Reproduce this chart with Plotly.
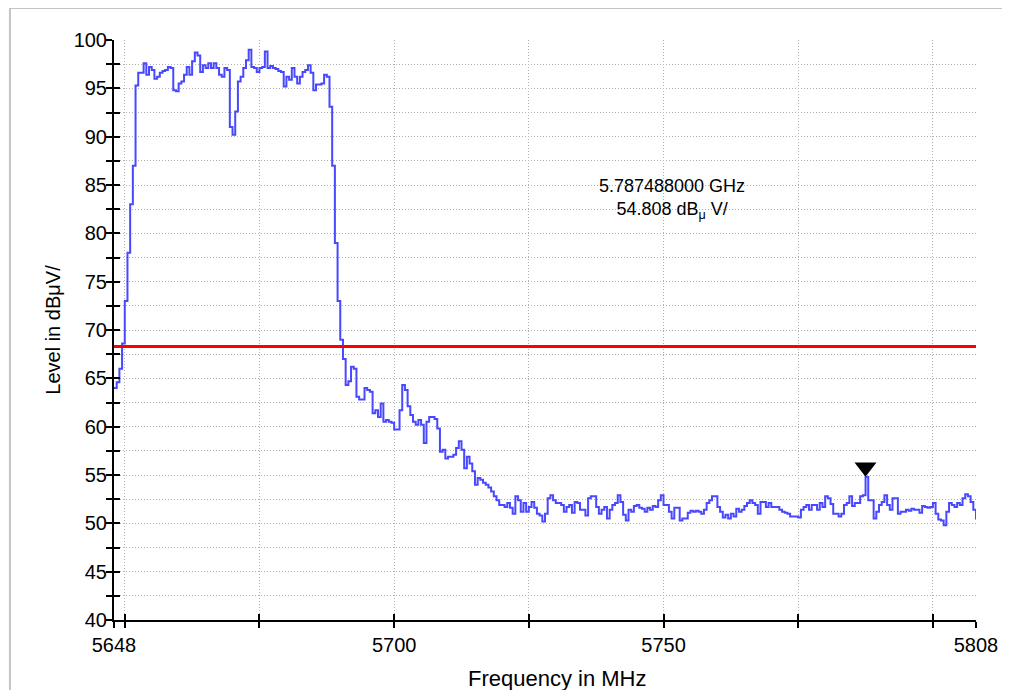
import numpy as np
import plotly.graph_objects as go

# ---------------- data ----------------
F_START = 5648.0          # MHz, sweep start
F_STOP = 5808.0           # MHz, sweep stop
# measured level (dBuV) at every 0.5 MHz from 5648 to 5808 MHz
LEVEL = [
    64.0, 64.6, 66.0, 68.6, 73.0, 78.0, 83.0, 87.0, 95.3, 96.6,   # 5648
    96.6, 97.6, 96.4, 97.2, 96.9, 96.0, 96.2, 96.6, 96.8, 96.9,   # 5653
    97.2, 97.1, 94.8, 94.7, 95.5, 95.7, 96.4, 97.2, 96.4, 97.8,   # 5658
    98.7, 98.4, 96.7, 97.4, 97.1, 97.6, 97.1, 97.6, 97.1, 96.4,   # 5663
    96.2, 97.1, 96.9, 91.0, 90.2, 92.6, 95.7, 96.2, 97.1, 97.9,   # 5668
    99.0, 97.2, 97.1, 96.7, 97.1, 97.2, 98.8, 97.1, 97.3, 97.1,   # 5673
    97.0, 96.8, 96.7, 95.2, 96.2, 95.9, 97.1, 96.2, 95.5, 96.2,   # 5678
    96.7, 96.9, 97.4, 96.6, 94.8, 95.4, 95.4, 95.5, 96.4, 96.2,   # 5683
    93.1, 87.0, 79.0, 73.0, 69.0, 67.0, 64.3, 64.7, 66.2, 66.0,   # 5688
    63.1, 62.8, 62.8, 64.0, 63.8, 63.6, 61.4, 61.7, 61.0, 62.4,   # 5693
    60.5, 60.7, 60.5, 60.4, 59.7, 59.7, 61.7, 64.3, 63.8, 62.1,   # 5698
    61.2, 60.5, 60.2, 60.7, 60.2, 58.3, 60.5, 61.0, 61.0, 60.8,   # 5703
    59.8, 57.4, 57.6, 56.7, 56.9, 56.9, 57.1, 57.8, 58.5, 57.6,   # 5708
    55.7, 56.9, 56.2, 55.4, 54.0, 54.7, 54.5, 54.2, 54.0, 53.7,   # 5713
    53.3, 52.8, 52.4, 51.9, 51.9, 51.7, 52.1, 51.6, 51.0, 52.8,   # 5718
    52.4, 51.2, 52.1, 51.2, 51.7, 52.2, 51.6, 51.0, 50.8, 50.2,   # 5723
    51.0, 52.6, 52.9, 52.4, 52.1, 52.1, 51.9, 51.2, 51.7, 51.9,   # 5728
    51.1, 52.2, 52.1, 51.4, 51.4, 50.8, 52.6, 52.8, 52.8, 51.7,   # 5733
    51.0, 51.4, 51.7, 50.5, 51.4, 51.9, 52.1, 52.9, 52.2, 50.9,   # 5738
    50.3, 51.4, 51.2, 51.8, 51.9, 51.6, 51.5, 51.2, 51.6, 51.4,   # 5743
    51.8, 51.7, 52.4, 52.9, 51.9, 51.9, 51.2, 50.5, 51.6, 51.6,   # 5748
    50.3, 50.5, 50.5, 51.1, 51.3, 51.2, 51.3, 51.2, 51.0, 51.4,   # 5753
    52.1, 52.4, 52.8, 52.8, 51.7, 51.2, 50.6, 50.9, 50.5, 51.0,   # 5758
    50.7, 51.5, 51.2, 51.4, 51.8, 52.1, 52.4, 52.1, 51.9, 51.0,   # 5763
    52.2, 52.2, 51.7, 52.1, 51.7, 51.7, 51.7, 51.4, 51.2, 51.1,   # 5768
    51.0, 50.7, 50.7, 50.7, 50.6, 51.4, 51.7, 51.9, 51.4, 51.9,   # 5773
    51.9, 51.4, 52.1, 51.7, 52.8, 52.6, 52.0, 51.0, 51.0, 50.7,   # 5778
    51.0, 51.9, 52.1, 52.8, 51.8, 52.1, 52.1, 52.8, 52.9, 54.8,   # 5783
    52.4, 52.4, 50.5, 51.2, 51.9, 52.2, 52.9, 51.9, 51.4, 52.6,   # 5788
    52.6, 51.0, 51.2, 51.2, 51.4, 51.3, 51.5, 51.4, 51.4, 51.1,   # 5793
    51.8, 51.7, 51.6, 51.7, 52.1, 51.0, 50.4, 50.3, 49.8, 51.2,   # 5798
    52.1, 51.9, 51.7, 52.1, 51.9, 52.6, 53.0, 52.8, 52.2, 51.4,   # 5803
    50.4,                                                         # 5808
]
FREQ = np.linspace(F_START, F_STOP, len(LEVEL))   # uniform sweep points

LIMIT_LEVEL = 68.3            # red limit line, dBuV
MARKER_FREQ_MHZ = 5787.488    # marker position
MARKER_LEVEL = 54.808         # marker level

Y_RANGE = [40, 100]
X_TICKS = [5648, 5650, 5675, 5700, 5725, 5750, 5775, 5800, 5808]
X_TICK_TEXT = ["5648", "", "", "5700", "", "5750", "", "", "5808"]

X_TITLE = "Frequency in MHz"
Y_TITLE = "Level in dBμV/"
MARKER_TEXT = f"{MARKER_FREQ_MHZ / 1000:.9f} GHz<br>{MARKER_LEVEL:.3f} dB<sub>μ</sub> V/"

# ---------------- style ----------------
FONT = "Liberation Sans, Arial, sans-serif"
TRACE_COLOR = "rgb(72,72,255)"
GRID_COLOR = "#b0b0b0"
GRID_DASH = "1px,2px"

fig = go.Figure()
fig.add_trace(go.Scatter(
    x=FREQ, y=LEVEL, mode="lines",
    line=dict(color=TRACE_COLOR, width=2, shape="hv"),
    hoverinfo="skip", showlegend=False,
))
fig.add_hline(y=LIMIT_LEVEL, line=dict(color="rgb(255,0,0)", width=3))
fig.add_trace(go.Scatter(
    x=[MARKER_FREQ_MHZ], y=[MARKER_LEVEL], mode="markers",
    marker=dict(symbol="triangle-up", angle=180, size=19, color="black",
                standoff=9.5, line=dict(width=0)),
    cliponaxis=False, hoverinfo="skip", showlegend=False,
))
# empty trace to carry the overlay axes that draw the inner half of the ticks
fig.add_trace(go.Scatter(x=[], y=[], xaxis="x2", yaxis="y2", showlegend=False))

tick_font = dict(family=FONT, size=20, color="black")

fig.update_layout(
    width=1002, height=682,
    margin=dict(l=106, r=34, t=32, b=70),
    paper_bgcolor="white", plot_bgcolor="white",
    showlegend=False,
    xaxis=dict(
        range=[F_START, F_STOP], tickmode="array", tickvals=X_TICKS, ticktext=X_TICK_TEXT,
        ticks="outside", ticklen=6, tickwidth=2, tickcolor="black",
        showline=True, linecolor="black", linewidth=2, mirror=False,
        showgrid=True, gridcolor=GRID_COLOR, gridwidth=1, griddash=GRID_DASH,
        zeroline=False, tickfont=tick_font, automargin=False,
    ),
    yaxis=dict(
        range=Y_RANGE, tickmode="linear", tick0=40, dtick=5,
        ticks="outside", ticklen=6, tickwidth=2, tickcolor="black",
        showline=True, linecolor="black", linewidth=2,
        showgrid=True, gridcolor=GRID_COLOR, gridwidth=1, griddash=GRID_DASH,
        minor=dict(tick0=40, dtick=2.5, ticks="outside", ticklen=6, tickwidth=2,
                   tickcolor="black", showgrid=True, gridcolor=GRID_COLOR,
                   gridwidth=1, griddash=GRID_DASH),
        zeroline=False, tickfont=tick_font, automargin=False, ticklabelstandoff=-5,
        title=dict(text=Y_TITLE, font=dict(family=FONT, size=20, color="black"),
                   standoff=8),
    ),
    xaxis2=dict(
        overlaying="x", anchor="y2", side="bottom", range=[F_START, F_STOP],
        tickmode="array", tickvals=X_TICKS, ticks="inside", ticklen=6, tickwidth=2,
        tickcolor="black", showticklabels=False, showgrid=False, showline=False,
        zeroline=False,
    ),
    yaxis2=dict(
        overlaying="y", anchor="x2", side="left", range=Y_RANGE,
        tickmode="linear", tick0=40, dtick=5, ticks="inside", ticklen=6, tickwidth=2,
        tickcolor="black",
        minor=dict(tick0=40, dtick=2.5, ticks="inside", ticklen=6, tickwidth=2,
                   tickcolor="black", showgrid=False),
        showticklabels=False, showgrid=False, showline=False, zeroline=False,
    ),
)

# x-axis title (placed as an annotation so it sits where the reference has it)
fig.add_annotation(
    x=0.515, y=-0.1, xref="paper", yref="paper", text=X_TITLE, showarrow=False,
    xanchor="center", yanchor="middle",
    font=dict(family=FONT, size=22, color="black"),
)

fig.add_annotation(
    x=5751.5, y=83.6, xref="x", yref="y", text=MARKER_TEXT, showarrow=False,
    xanchor="center", yanchor="middle", align="center",
    font=dict(family=FONT, size=18, color="black"),
)

# outer window frame
fig.add_shape(
    type="rect", xref="paper", yref="paper",
    x0=-0.1207, x1=1.0360, y0=-0.2, y1=1.0551,
    line=dict(color="#c4c4c4", width=2), fillcolor="rgba(0,0,0,0)", layer="below",
)

fig.write_html("out.html", config={"displayModeBar": False})
